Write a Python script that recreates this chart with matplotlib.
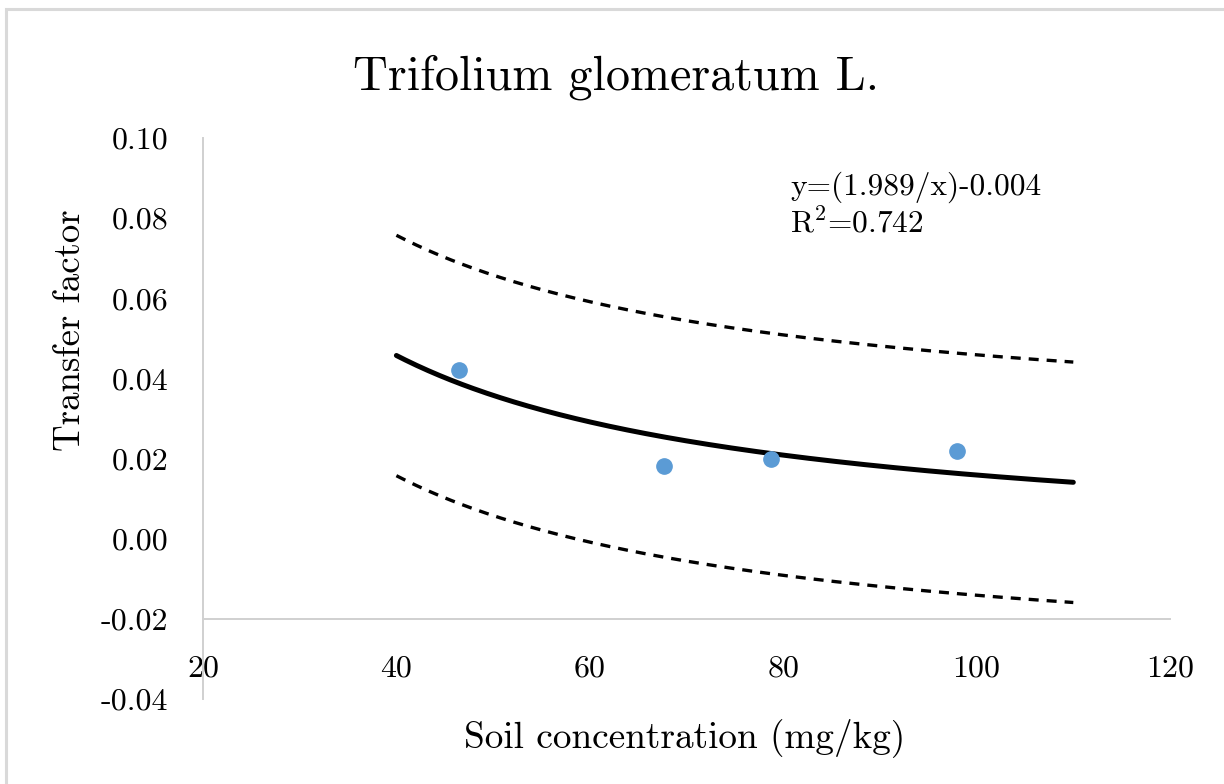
import matplotlib
matplotlib.use("Agg")
import matplotlib.pyplot as plt
import numpy as np
from matplotlib.patches import Rectangle

# measured points
soil_conc = [46.5, 67.7, 78.7, 98.0]
transfer = [0.0421, 0.0182, 0.0199, 0.0218]

# fitted model y = a/x + b and the half width of the dashed band
fit_a = 1.989
fit_b = -0.004
band_half = 0.030
fit_range = (40, 110)

x_ticks = [20, 40, 60, 80, 100, 120]
y_ticks = [-0.04, -0.02, 0.00, 0.02, 0.04, 0.06, 0.08, 0.10]
y_tick_labels = ["-0.04", "-0.02", "0.00", "0.02", "0.04", "0.06", "0.08", "0.10"]

plt.rcParams["font.family"] = "cmr10"
plt.rcParams["mathtext.fontset"] = "cm"
plt.rcParams["axes.unicode_minus"] = False

W, H = 1224, 784
fig = plt.figure(figsize=(W / 100, H / 100), dpi=100)

# chart frame
fig.patches.append(Rectangle((6 / W, -0.1), 1.2, 1.1 - 9 / H, transform=fig.transFigure,
                             fill=False, edgecolor="#d9d9d9", linewidth=2.2))

ax = fig.add_axes([203 / W, 85 / H, 967 / W, 561 / H])
ax.set_xlim(20, 120)
ax.set_ylim(-0.04, 0.10)

for side in ("top", "right"):
    ax.spines[side].set_visible(False)
ax.spines["bottom"].set_position(("data", -0.02))
for side in ("left", "bottom"):
    ax.spines[side].set_color("#d0d0d0")
    ax.spines[side].set_linewidth(1.4)

ax.set_xticks(x_ticks)
ax.set_xticklabels([str(v) for v in x_ticks])
ax.set_yticks(y_ticks)
ax.set_yticklabels(y_tick_labels)
ax.tick_params(axis="x", length=0, pad=26, labelsize=23)
ax.tick_params(axis="y", length=0, pad=25, labelsize=23)

xs = np.linspace(fit_range[0], fit_range[1], 300)
fit = fit_a / xs + fit_b
ax.plot(xs, fit, color="black", linewidth=3.6, solid_capstyle="round", zorder=3)
ax.plot(xs, fit + band_half, color="black", linewidth=2.4, dashes=(3, 2.4), zorder=3)
ax.plot(xs, fit - band_half, color="black", linewidth=2.4, dashes=(3, 2.4), zorder=3)

ax.plot(soil_conc, transfer, "o", color="#5b9bd5", markersize=11, zorder=4)

fig.text(616 / W, 1 - 90 / H, "Trifolium glomeratum L.", fontsize=34.7, ha="center", va="baseline")
fig.text(685 / W, 1 - 747 / H, "Soil concentration (mg/kg)", fontsize=26.8, ha="center", va="baseline")
fig.text(70 / W, 1 - 330 / H, "Transfer factor", fontsize=26.5, ha="center", va="center", rotation=90)

fig.text(790 / W, 1 - 195 / H, "y=(%.3f/x)%.3f" % (fit_a, fit_b), fontsize=22.6, ha="left", va="baseline")
fig.text(790 / W, 1 - 232 / H, r"R$^2$=0.742", fontsize=22.6, ha="left", va="baseline")

fig.savefig("out.png", dpi=100)
